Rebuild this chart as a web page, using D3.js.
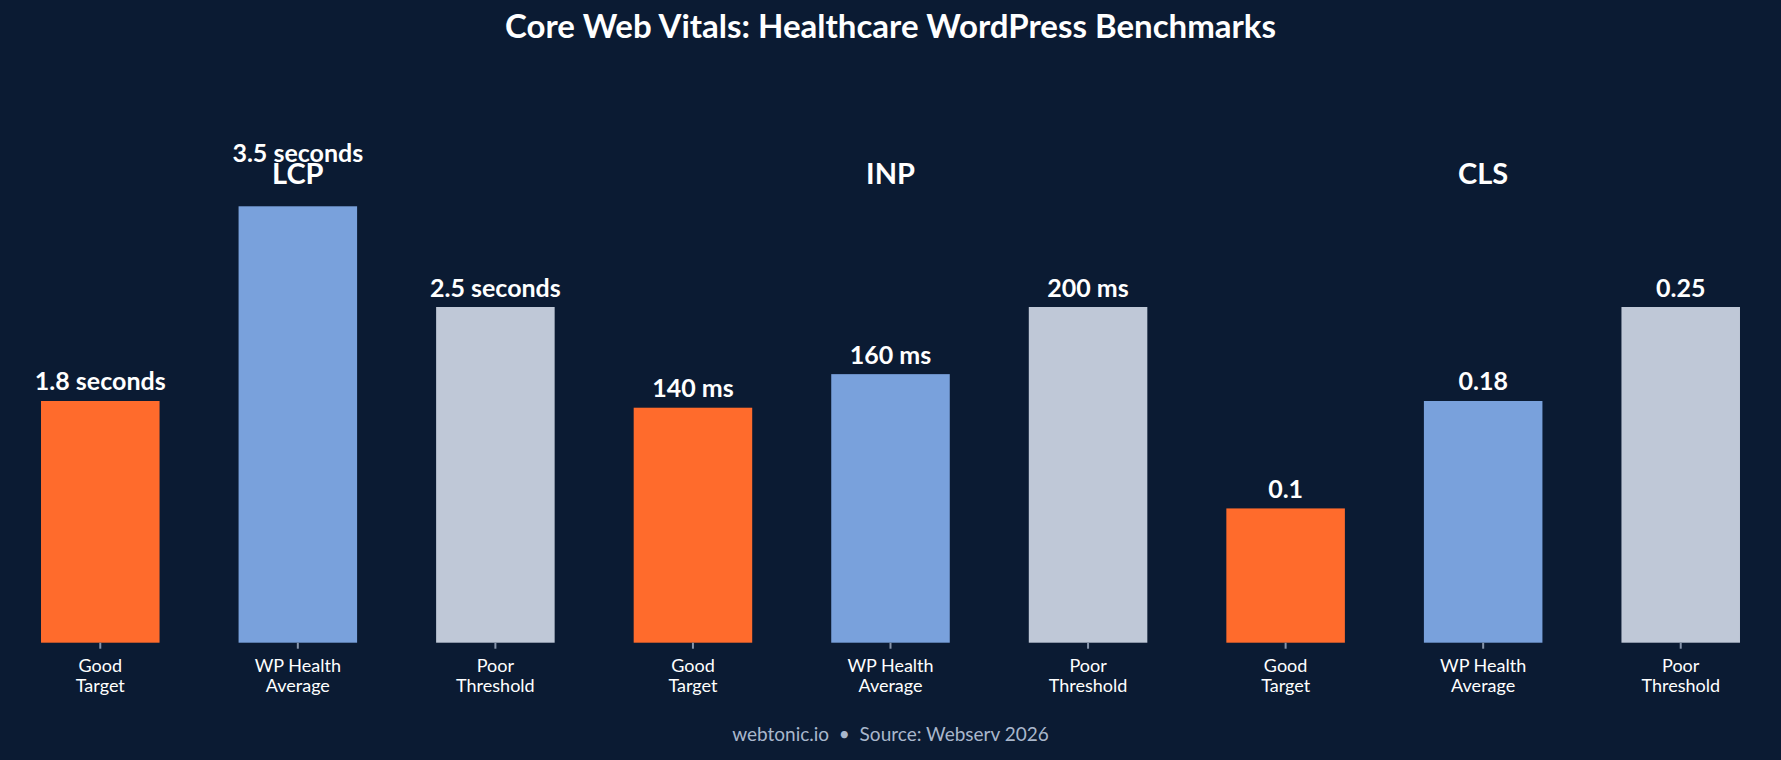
<!DOCTYPE html>
<html>
<head>
<meta charset="utf-8">
<script src="https://cdn.jsdelivr.net/npm/d3@7"></script>
<style>
  html, body { margin: 0; padding: 0; background: #0b1b33; }
  svg { display: block; font-family: Lato, "Open Sans", sans-serif; }
</style>
</head>
<body>
<svg id="chart" width="1781" height="760"></svg>
<script>
// データ
var metrics = ["LCP", "INP", "CLS"];
var kinds = ["Good Target", "WP Health Average", "Poor Threshold"];
var lcpValues = [1.8, 3.5, 2.5];
var inpValues = [140, 160, 200];
var clsValues = [0.1, 0.18, 0.25];
var lcpLabels = ["1.8 seconds", "3.5 seconds", "2.5 seconds"];
var inpLabels = ["140 ms", "160 ms", "200 ms"];
var clsLabels = ["0.1", "0.18", "0.25"];
var colors = ["#ff6b2c", "#79a1dc", "#bfc8d7"];

var svg = d3.select("#chart"),
    width = +svg.attr("width"),
    height = +svg.attr("height");

// 各指標は Poor Threshold を 1 として正規化
var allValues = [lcpValues, inpValues, clsValues];
var allLabels = [lcpLabels, inpLabels, clsLabels];
var bars = [];
metrics.forEach(function(m, i) {
  var vals = allValues[i];
  vals.forEach(function(v, j) {
    bars.push({
      id: m + "-" + j,
      metric: m,
      kind: kinds[j],
      k: j,
      ratio: v / vals[2],
      label: allLabels[i][j]
    });
  });
});

var baseY = 642.7;
var yMax = 1.3;

var x = d3.scaleBand()
    .domain(bars.map(function(d) { return d.id; }))
    .range([1.5, 1779.5])
    .paddingInner(0.4)
    .paddingOuter(0.2);

var y = d3.scaleLinear()
    .domain([0, yMax])
    .range([baseY, baseY - 335.7 * yMax]);

svg.append("rect")
    .attr("width", width).attr("height", height)
    .attr("fill", "#0b1b33");

// タイトル
svg.append("text")
    .attr("x", width / 2).attr("y", 38)
    .attr("text-anchor", "middle")
    .attr("fill", "#ffffff")
    .attr("font-size", 33)
    .attr("font-weight", 700)
    .text("Core Web Vitals: Healthcare WordPress Benchmarks");

var g = svg.append("g");

g.selectAll("rect.bar")
  .data(bars)
  .enter().append("rect")
    .attr("class", "bar")
    .attr("x", function(d) { return x(d.id); })
    .attr("width", x.bandwidth())
    .attr("y", function(d) { return y(Math.min(d.ratio, yMax)); })
    .attr("height", function(d) { return baseY - y(Math.min(d.ratio, yMax)); })
    .attr("fill", function(d) { return colors[d.k]; });

// 値ラベル（はみ出したバーは本来の値の位置に）
g.selectAll("text.value")
  .data(bars)
  .enter().append("text")
    .attr("class", "value")
    .attr("x", function(d) { return x(d.id) + x.bandwidth() / 2; })
    .attr("y", function(d) { return y(d.ratio) - 10.5; })
    .attr("text-anchor", "middle")
    .attr("fill", "#ffffff")
    .attr("font-size", 25)
    .attr("font-weight", 700)
    .text(function(d) { return d.label; });

// 指標名
g.selectAll("text.metric")
  .data(metrics)
  .enter().append("text")
    .attr("class", "metric")
    .attr("x", function(m) { return x(m + "-1") + x.bandwidth() / 2; })
    .attr("y", 184)
    .attr("text-anchor", "middle")
    .attr("fill", "#ffffff")
    .attr("font-size", 29)
    .attr("font-weight", 700)
    .text(function(m) { return m; });

// x軸
var xAxis = d3.axisBottom(x)
    .tickSize(6)
    .tickSizeOuter(0)
    .tickFormat("");

var axisG = svg.append("g")
    .attr("transform", "translate(0," + baseY + ")")
    .call(xAxis)
    .attr("font-family", null);
axisG.select(".domain").remove();
axisG.selectAll(".tick line").attr("stroke", "#8795ab").attr("stroke-width", 2);

axisG.selectAll(".tick").each(function(id) {
  var d = bars.find(function(b) { return b.id === id; });
  var words = d.kind.split(" ");
  var lines = words.length === 3 ? [words[0] + " " + words[1], words[2]] : words;
  var t = d3.select(this).append("text")
      .attr("fill", "#ffffff")
      .attr("font-family", "Lato, sans-serif")
      .attr("font-size", 18)
      .attr("text-anchor", "middle");
  lines.forEach(function(l, i) {
    t.append("tspan")
      .attr("x", 0)
      .attr("y", 29.5 + i * 20)
      .text(l);
  });
});

// フッター
svg.append("text")
    .attr("x", width / 2).attr("y", 741)
    .attr("text-anchor", "middle")
    .attr("fill", "#a9b7cc")
    .attr("font-size", 19)
    .attr("xml:space", "preserve")
    .text("webtonic.io  \u2022  Source: Webserv 2026");
</script>
</body>
</html>
